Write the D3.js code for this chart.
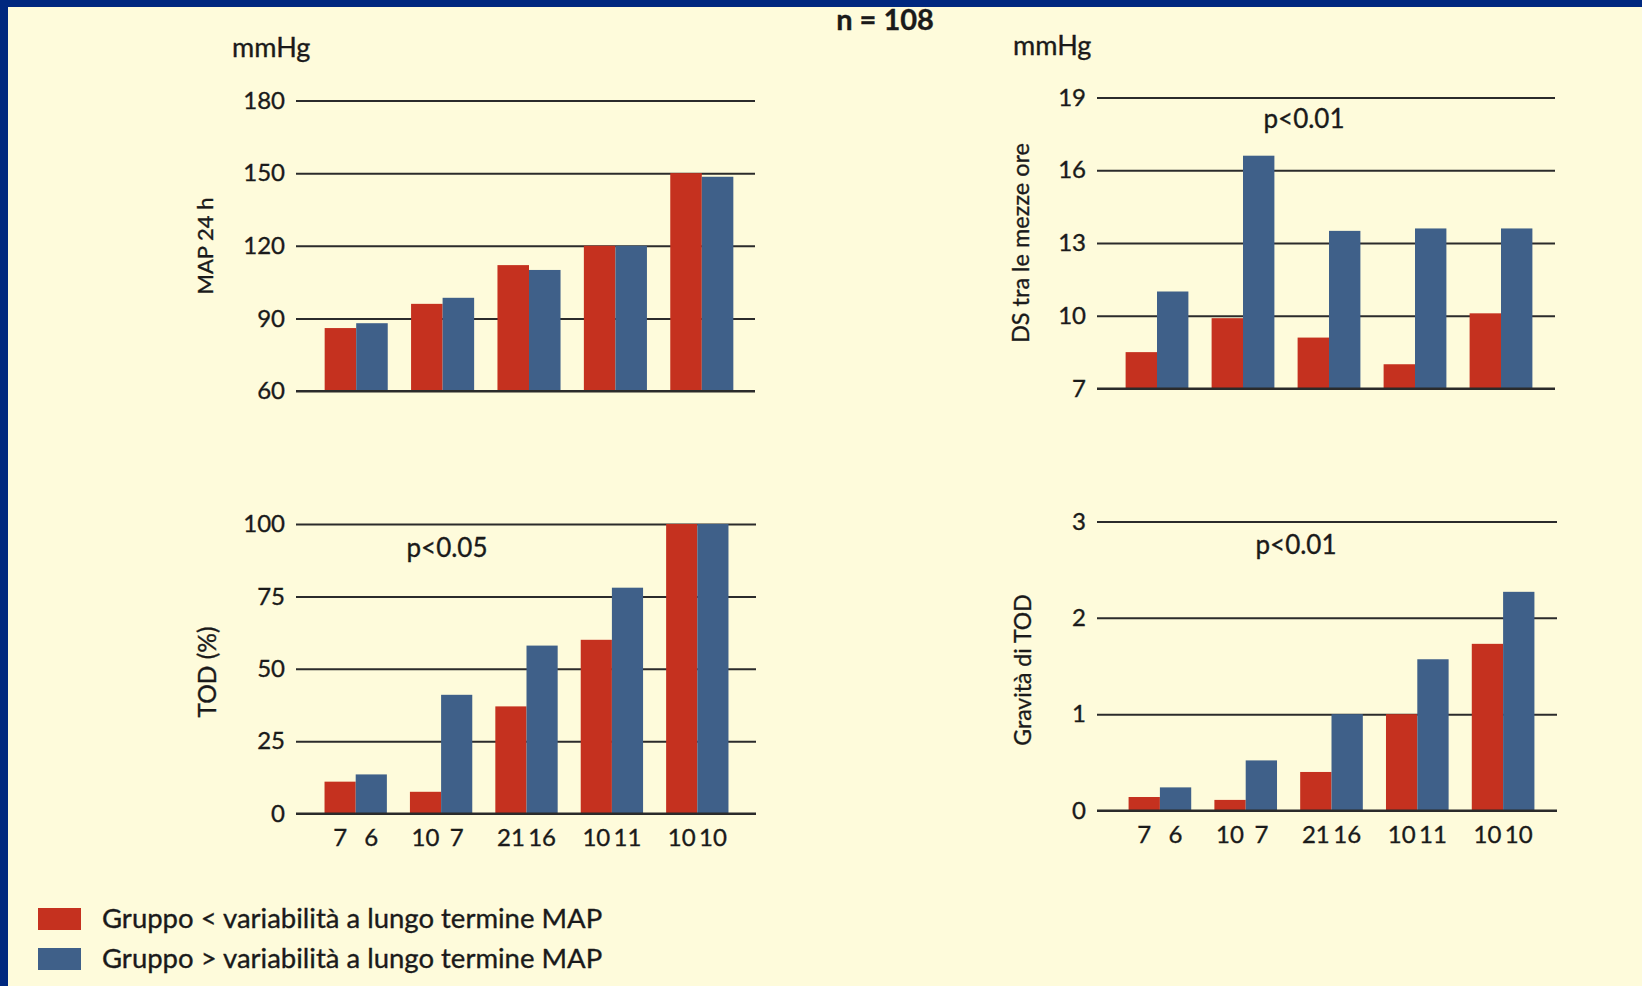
<!DOCTYPE html>
<html>
<head>
<meta charset="utf-8">
<script src="https://cdn.jsdelivr.net/npm/d3@7"></script>
<style>
  html, body { margin: 0; padding: 0; background: #00287f; }
  svg { display: block; }
  text { font-family: Lato, 'Open Sans', sans-serif; fill: #1a1a1a; stroke: #1a1a1a; stroke-width: 0.35px; }
</style>
</head>
<body>
<svg id="chart" width="1642" height="986"></svg>
<script>
// numerosità dei gruppi (sotto ogni barra)
const nLow = [7, 10, 21, 10, 10]
const nHigh = [6, 7, 16, 11, 10]

// valori
const mapLow = [86, 96, 112, 120, 150]
const mapHigh = [88, 98.5, 110, 120, 148.5]
const dsLow = [8.5, 9.9, 9.1, 8.0, 10.1]
const dsHigh = [11.0, 16.6, 13.5, 13.6, 13.6]
const todLow = [11, 7.5, 37, 60, 100]
const todHigh = [13.5, 41, 58, 78, 100]
const gravLow = [0.14, 0.11, 0.40, 1.0, 1.73]
const gravHigh = [0.24, 0.52, 1.0, 1.57, 2.27]

const mapTicks = [60, 90, 120, 150, 180]
const dsTicks = [7, 10, 13, 16, 19]
const todTicks = [0, 25, 50, 75, 100]
const gravTicks = [0, 1, 2, 3]

const legendLabels = [
  'Gruppo < variabilità a lungo termine MAP',
  'Gruppo > variabilità a lungo termine MAP'
]

const colorLow = '#c5311f'
const colorHigh = '#3f6089'
const gridColor = '#2b2b2b'

const svg = d3.select('#chart')

svg.append('rect')
  .attr('x', 8).attr('y', 7)
  .attr('width', 1642).attr('height', 986)
  .attr('fill', '#fefbdb')

// pannelli: posizioni in pixel, dati dagli array sopra
const panels = [
  {
    low: mapLow, high: mapHigh, ticks: mapTicks, domain: [60, 180],
    grid: [296, 755], yRange: [391, 100.5], band: [313, 745],
    title: 'MAP 24 h', titleSize: 22, titlePos: [213, 246],
    unit: 'mmHg', unitPos: [232, 57]
  },
  {
    low: dsLow, high: dsHigh, ticks: dsTicks, domain: [7, 19],
    grid: [1097, 1555], yRange: [388.5, 97.5], band: [1114, 1544],
    title: 'DS tra le mezze ore', titleSize: 23.5, titlePos: [1029, 243],
    unit: 'mmHg', unitPos: [1013, 55],
    pval: 'p<0.01', pPos: [1304, 128]
  },
  {
    low: todLow, high: todHigh, ticks: todTicks, domain: [0, 100],
    grid: [296, 756], yRange: [813.5, 524], band: [313, 740],
    title: 'TOD (%)', titleSize: 24.5, titlePos: [216, 672],
    pval: 'p<0.05', pPos: [447, 557], xlabels: true, xlabY: 846
  },
  {
    low: gravLow, high: gravHigh, ticks: gravTicks, domain: [0, 3],
    grid: [1097, 1557], yRange: [810.5, 521.5], band: [1117, 1546],
    title: 'Gravità di TOD', titleSize: 23, titlePos: [1031, 670],
    pval: 'p<0.01', pPos: [1296, 554], xlabels: true, xlabY: 843
  }
]

panels.forEach(p => {
  const g = svg.append('g')
  const y = d3.scaleLinear().domain(p.domain).range(p.yRange)
  const x = d3.scaleBand()
    .domain(d3.range(p.low.length))
    .range(p.band)
    .paddingInner(0.27)
    .paddingOuter(0.135)
  const xs = d3.scaleBand().domain(['low', 'high']).range([0, x.bandwidth()])

  // griglia + etichette asse y
  const axis = g.append('g')
    .attr('transform', `translate(${p.grid[0]},0)`)
    .call(d3.axisLeft(y)
      .tickValues(p.ticks)
      .tickSize(-(p.grid[1] - p.grid[0]))
      .tickPadding(11)
      .tickFormat(d3.format('d')))
  axis.select('.domain').remove()
  axis.selectAll('.tick line')
    .attr('stroke', gridColor)
    .attr('stroke-width', 2)
  axis.selectAll('.tick text')
    .attr('font-size', 24)
    .attr('font-family', 'Lato, sans-serif')
    .attr('fill', '#1a1a1a')

  const rows = p.low.map((v, i) => ({ i, low: v, high: p.high[i] }))

  const grp = g.append('g').selectAll('g')
    .data(rows)
    .join('g')
    .attr('transform', d => `translate(${x(d.i)},0)`)

  grp.selectAll('rect')
    .data(d => [{ k: 'low', v: d.low }, { k: 'high', v: d.high }])
    .join('rect')
    .attr('x', d => xs(d.k))
    .attr('width', xs.bandwidth())
    .attr('y', d => y(d.v))
    .attr('height', d => y(p.domain[0]) - y(d.v))
    .attr('fill', d => d.k === 'low' ? colorLow : colorHigh)

  // linea di base sopra le barre
  g.append('line')
    .attr('x1', p.grid[0]).attr('x2', p.grid[1])
    .attr('y1', y(p.domain[0])).attr('y2', y(p.domain[0]))
    .attr('stroke', gridColor)
    .attr('stroke-width', 2)

  if (p.xlabels) {
    grp.selectAll('text')
      .data(d => [{ k: 'low', n: nLow[d.i] }, { k: 'high', n: nHigh[d.i] }])
      .join('text')
      .attr('x', d => xs(d.k) + xs.bandwidth() / 2)
      .attr('y', p.xlabY)
      .attr('text-anchor', 'middle')
      .attr('font-size', 24)
      .text(d => d.n)
  }

  g.append('text')
    .attr('transform', `translate(${p.titlePos[0]},${p.titlePos[1]}) rotate(-90)`)
    .attr('text-anchor', 'middle')
    .attr('font-size', p.titleSize)
    .text(p.title)

  if (p.unit) {
    g.append('text')
      .attr('x', p.unitPos[0]).attr('y', p.unitPos[1])
      .attr('font-size', 27)
      .text(p.unit)
  }
  if (p.pval) {
    g.append('text')
      .attr('x', p.pPos[0]).attr('y', p.pPos[1])
      .attr('text-anchor', 'middle')
      .attr('font-size', 26)
      .text(p.pval)
  }
})

svg.append('text')
  .attr('x', 885).attr('y', 30)
  .attr('text-anchor', 'middle')
  .attr('font-size', 29)
  .attr('font-weight', 'bold')
  .text('n = 108')

// legenda
const legend = svg.append('g')
  .selectAll('g')
  .data(legendLabels)
  .join('g')
  .attr('transform', (d, i) => `translate(38,${908 + i * 40})`)

legend.append('rect')
  .attr('width', 43).attr('height', 22)
  .attr('fill', (d, i) => i === 0 ? colorLow : colorHigh)

legend.append('text')
  .attr('x', 64).attr('y', 20)
  .attr('font-size', 27.5)
  .text(d => d)
</script>
</body>
</html>
